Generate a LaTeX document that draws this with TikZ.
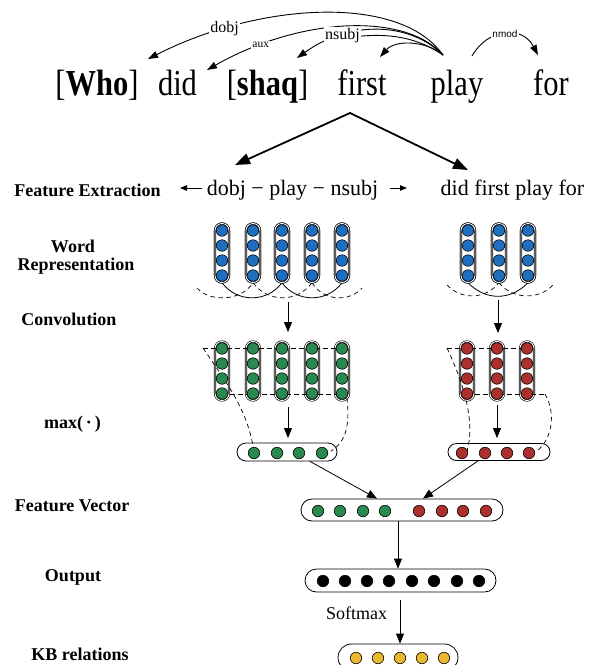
\documentclass[tikz,border=0pt]{standalone}
\usepackage{graphicx}
\usepackage{fontspec}
\setmainfont{Liberation Serif}
\newfontfamily\lsans{Liberation Sans}
\usetikzlibrary{arrows.meta}
\definecolor{cblue}{RGB}{31,111,192}
\definecolor{cgreen}{RGB}{40,138,78}
\definecolor{cred}{RGB}{172,48,44}
\definecolor{cyellow}{RGB}{232,184,46}
\newcommand\tallw[1]{\scalebox{1}[1.2]{#1}}
\begin{document}
\begin{tikzpicture}[x=1pt,y=-1pt,line join=round,
  word/.style={font=\fontsize{30.5}{36}\selectfont, inner sep=0pt, anchor=base},
  midtext/.style={font=\fontsize{22}{26}\selectfont, inner sep=0pt, anchor=base},
  lbl/.style={font=\fontsize{18}{21}\selectfont\bfseries, inner sep=0pt, anchor=base},
  deplbl/.style={fill=white, inner sep=1.5pt, font=\fontsize{16}{19}\selectfont},
  dep/.style={-{Triangle[length=10pt,width=7pt]}, line width=0.9pt},
  fork/.style={{Triangle[length=15pt,width=11pt]}-{Triangle[length=15pt,width=11pt]}, line width=1.8pt, line join=miter},
  smarr/.style={-{Triangle[length=7pt,width=5.5pt]}, line width=1pt},
  arr/.style={-{Triangle[length=10pt,width=8pt]}, line width=0.8pt},
  vcap/.style={draw, double, double distance=0.9pt, line width=0.6pt, fill=white, rounded corners=7pt, minimum width=14pt, minimum height=59pt, inner sep=0pt},
  hcap/.style={draw, line width=0.8pt, fill=white, inner sep=0pt},
  dot/.style={circle, draw, line width=0.6pt, minimum size=11.5pt, inner sep=0pt},
  dsh/.style={line width=0.7pt, dash pattern=on 4.5pt off 3.5pt},
  conv/.style={line width=0.8pt}]
\useasboundingbox (0,0) rectangle (589,665);

% ---------------- sentence ----------------
\node[word] (w1) at (97,95) {\tallw{[\textbf{Who}]}};
\node[word] (w2) at (177.5,95) {\tallw{did}};
\node[word] (w3) at (267.5,95) {\tallw{[\textbf{shaq}]}};
\node[word] (w4) at (362,95) {\tallw{first}};
\node[word] (w5) at (457,95) {\tallw{play}};
\node[word] (w6) at (551,95) {\tallw{for}};

\coordinate (pA) at (443,55);
\coordinate (tWho) at (148,59);
\coordinate (tDid) at (207,70);
\coordinate (tShaq) at (297,58);
\coordinate (tFirst) at (380,57);
\coordinate (pB) at (472,56);
\coordinate (tFor) at (538,55);
\coordinate (nsL) at (345,38);

\draw[dep] (pA) .. controls (400,-6) and (260,2) .. (tWho) node[pos=0.78, deplbl] (ldobj) {dobj};
\draw[dep] (pA) .. controls (405,12) and (300,17) .. (tDid) node[pos=0.81, deplbl, font=\fontsize{11.5}{13}\selectfont] (laux) {aux};
\draw[line width=0.9pt] (pA) .. controls (415,36) and (385,32) .. (nsL);
\draw[dep] (pA) .. controls (410,22) and (350,20) .. (tShaq) node[pos=0.72, deplbl] (lnsubj) {nsubj};
\draw[dep] (pA) .. controls (425,40) and (395,40) .. (tFirst);
\draw[dep] (pB) .. controls (488,28) and (522,25) .. (tFor) node[pos=0.5, deplbl, font=\lsans\fontsize{10}{12}\selectfont] (lnmod) {nmod};

% ---------------- fork ----------------
\coordinate (apex) at (350,113);
\coordinate (fl) at (235,165);
\coordinate (fr) at (468,170);
\draw[fork] (fl) -- (apex) -- (fr);

% ---------------- feature extraction line ----------------
\node[midtext] (path) at (292.5,195) {dobj − play − nsubj};
\node[midtext] (seq) at (512.5,195) {did first play for};
\coordinate (al1) at (202,188);
\coordinate (al2) at (180,188);
\coordinate (ar1) at (390,188);
\coordinate (ar2) at (407,188);
\draw[smarr] (al1) -- (al2);
\draw[smarr] (ar1) -- (ar2);

% ---------------- left labels ----------------
\node[lbl] (lfe) at (87.5,196) {Feature Extraction};
\node[lbl] (lw1) at (73,252) {Word};
\node[lbl] (lw2) at (76,270) {Representation};
\node[lbl] (lconv) at (69,325) {Convolution};
\node[lbl] (lmax) at (72.5,428) {max(\,·\,)};
\node[lbl] (lfv) at (72,511) {Feature Vector};
\node[lbl] (lout) at (73,581) {Output};
\node[lbl] (lkb) at (80,660) {KB relations};

% ---------------- left branch: word representation ----------------
\coordinate (lpad) at (197,288);
\coordinate (rpad) at (362,288);
\foreach \x [count=\i] in {222,253,282,312,342} {
  \node[vcap] (b\i) at (\x,253) {};
}
% convolution arcs
\draw[conv] (b1.south) .. controls +(15,20) and +(-15,20) .. (b3.south);
\draw[conv] (b3.south) .. controls +(15,20) and +(-15,20) .. (b5.south);
\draw[dsh] (lpad) .. controls +(12,14) and +(-12,19) .. (b2.south);
\draw[dsh] (b2.south) .. controls +(15,20) and +(-15,20) .. (b4.south);
\draw[dsh] (b4.south) .. controls +(12,19) and +(-12,14) .. (rpad);
\foreach \x [count=\i] in {222,253,282,312,342} {
  \node[vcap] (b\i) at (\x,253) {};
  \foreach \y [count=\j] in {230.5,245.5,260.5,275.5}
    \node[dot, fill=cblue] (b\i-\j) at (\x,\y) {};
}

\coordinate (lc1) at (288,302);
\coordinate (lc2) at (288,332);
\draw[arr] (lc1) -- (lc2);

% convolution layer (green)
\foreach \x [count=\i] in {222,253,282,312,342} {
  \node[vcap] (g\i) at (\x,371) {};
}
\node[hcap, minimum width=100pt, minimum height=18pt, rounded corners=9pt] (gm) at (287,452) {};
\coordinate (gtl) at (203,348);
\coordinate (gtr) at (345,348);
\draw[dsh] (gtl) -- (gtr);
\coordinate (gbl) at (222,394);
\coordinate (gbr) at (342,394);
\draw[dsh] (gbl) -- (gbr);
\coordinate (gm1c) at (254,452);
\coordinate (grs) at (347,398);
\coordinate (gm4c) at (331,451);
\draw[dsh] (gtl) .. controls (228,385) and (248,410) .. (gm1c);
\draw[dsh] (grs) .. controls (350,425) and (346,442) .. (gm4c);
\foreach \x [count=\i] in {222,253,282,312,342} {
  \foreach \y [count=\j] in {348.5,363.5,378.5,393.5}
    \node[dot, fill=cgreen] (g\i-\j) at (\x,\y) {};
}
\foreach \x [count=\i] in {254,277,299,322}
  \node[dot, fill=cgreen] (gm\i) at (\x,453) {};

\coordinate (lm1) at (288,407);
\coordinate (lm2) at (288,438);
\draw[arr] (lm1) -- (lm2);

% ---------------- right branch ----------------
\coordinate (rlpad) at (447,285);
\coordinate (rrpad) at (553,285);
\foreach \x [count=\i] in {468,499,528} {
  \node[vcap] (c\i) at (\x,253) {};
}
\draw[conv] (c1.south) .. controls +(18,18) and +(-18,18) .. (c3.south);
\draw[dsh] (rlpad) .. controls +(14,15) and +(-14,17) .. (c2.south);
\draw[dsh] (c2.south) .. controls +(14,17) and +(-14,15) .. (rrpad);
\foreach \x [count=\i] in {468,499,528} {
  \node[vcap] (c\i) at (\x,253) {};
  \foreach \y [count=\j] in {230.5,245.5,260.5,275.5}
    \node[dot, fill=cblue] (c\i-\j) at (\x,\y) {};
}
\coordinate (rc1) at (498,300);
\coordinate (rc2) at (498,333);
\draw[arr] (rc1) -- (rc2);

\foreach \x [count=\i] in {467,497,527} {
  \node[vcap] (r\i) at (\x,371) {};
}
\node[hcap, minimum width=102pt, minimum height=17pt, rounded corners=8.5pt] (rm) at (499,452) {};
\coordinate (rtl) at (447,348);
\coordinate (rtr) at (533,348);
\draw[dsh] (rtl) -- (rtr);
\coordinate (rbl) at (467,394);
\coordinate (rbr) at (545,394);
\draw[dsh] (rbl) -- (rbr);
\coordinate (rm1c) at (467,451);
\coordinate (rm4c) at (537,451);
\draw[dsh] (rtl) .. controls (462,380) and (476,420) .. (rm1c);
\draw[dsh] (rbr) .. controls (557,415) and (551,440) .. (rm4c);
\foreach \x [count=\i] in {467,497,527} {
  \foreach \y [count=\j] in {348.5,363.5,378.5,393.5}
    \node[dot, fill=cred] (r\i-\j) at (\x,\y) {};
}
\foreach \x [count=\i] in {462,485,507,529}
  \node[dot, fill=cred] (rm\i) at (\x,453) {};

\coordinate (rm1a) at (497,405);
\coordinate (rm2a) at (497,438);
\draw[arr] (rm1a) -- (rm2a);

% ---------------- feature vector, output, KB ----------------
\node[hcap, minimum width=202pt, minimum height=22pt, rounded corners=11pt] (fv) at (402,510) {};
\foreach \x [count=\i] in {318,340,363,385}
  \node[dot, fill=cgreen] (fg\i) at (\x,511) {};
\foreach \x [count=\i] in {419,442,463,486}
  \node[dot, fill=cred] (fr\i) at (\x,511) {};

\draw[arr] ([xshift=23pt]gm.south) -- ([xshift=-25pt]fv.north);
\draw[arr] ([xshift=-21pt]rm.south) -- ([xshift=21pt]fv.north);

\node[hcap, minimum width=191pt, minimum height=23pt, rounded corners=11.5pt] (out) at (400.5,580.5) {};
\foreach \x [count=\i] in {323,345,367,389,412,434,457,479}
  \node[dot, fill=black] (o\i) at (\x,581) {};
\draw[arr] ([xshift=-4pt]fv.south) -- ([xshift=-2.5pt]out.north);

\node[hcap, minimum width=120pt, minimum height=27pt, rounded corners=13.5pt] (kb) at (398,657.5) {};
\foreach \x [count=\i] in {356,378,400,422,444}
  \node[dot, fill=cyellow] (k\i) at (\x,658) {};
\draw[arr] ([yshift=-8pt,xshift=-0.5pt]out.south) -- ([xshift=2pt]kb.north);
\node[font=\fontsize{18}{21}\selectfont, inner sep=0pt, anchor=base] (smax) at (356.5,619) {Softmax};
\end{tikzpicture}
\end{document}
